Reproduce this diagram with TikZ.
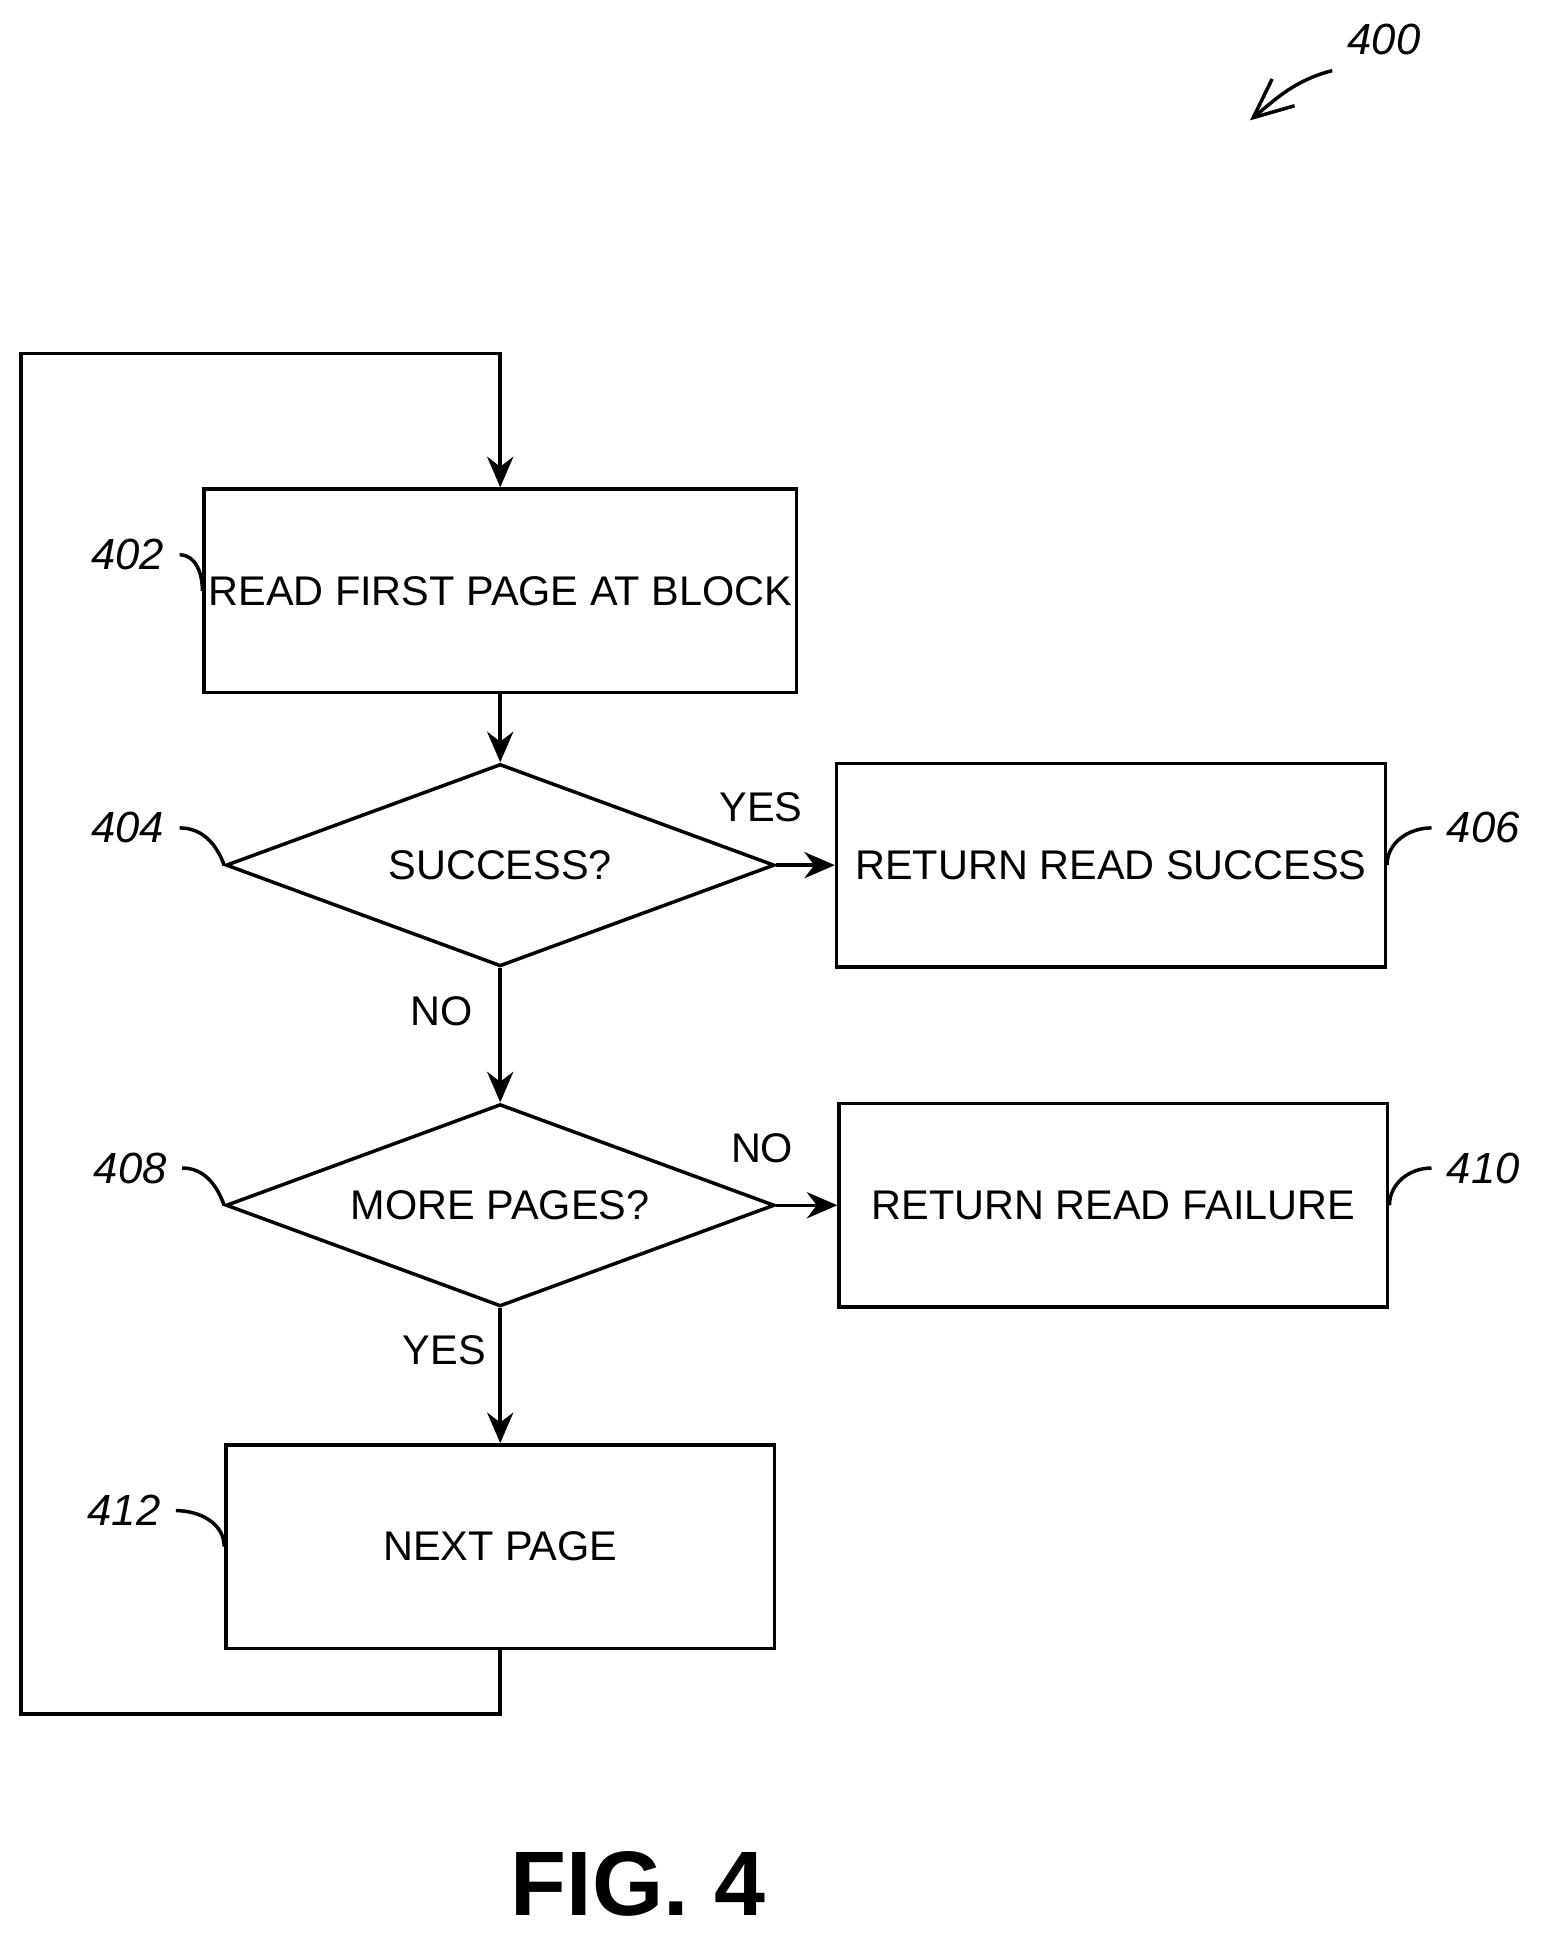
\documentclass[tikz,border=0pt]{standalone}
\usepackage{fontspec}
\setmainfont{Liberation Sans}
\usetikzlibrary{positioning, calc, arrows.meta, shapes.geometric}
\begin{document}
\begin{tikzpicture}[
    box/.style={draw, thick, minimum width=4.42cm, minimum height=1.64cm, inner sep=1pt, font=\fontsize{9.5}{11}\selectfont},
    dec/.style={draw, thick, diamond, aspect=2.7, inner sep=0pt, minimum width=4.42cm, minimum height=1.63cm, font=\fontsize{9.5}{11}\selectfont},
    ref/.style={font=\itshape\fontsize{10}{12}\selectfont},
    lbl/.style={font=\fontsize{9.5}{11}\selectfont},
    flow/.style={thick, -{Stealth[length=7pt, width=6pt]}},
    lead/.style={thick}]
        \useasboundingbox (0,0) rectangle (12.45,15.75);
        % nodes
        \node[box] (n402) at (4.03, 10.99) {READ FIRST PAGE AT BLOCK};
        \node[dec] (n404) at (4.03, 8.78) {SUCCESS?};
        \node[box] (n406) at (8.95, 8.78) {RETURN READ SUCCESS};
        \node[dec] (n408) at (4.03, 6.04) {MORE PAGES?};
        \node[box] (n410) at (8.97, 6.04) {RETURN READ FAILURE};
        \node[box] (n412) at (4.03, 3.29) {NEXT PAGE};
        \coordinate (c-bot)  at (4.03, 1.94);
        \coordinate (c-bl)   at (0.17, 1.94);
        \coordinate (c-tl)   at (0.17, 12.90);
        \coordinate (c-top)  at (4.03, 12.90);
        % labels
        \node[lbl] (yes1) at (6.13, 9.25) {YES};
        \node[lbl] (no1)  at (3.56, 7.60) {NO};
        \node[lbl] (no2)  at (6.14, 6.50) {NO};
        \node[lbl] (yes2) at (3.58, 4.87) {YES};
        % reference numerals
        \node[ref] (r402) at (1.03, 11.28) {402};
        \node[ref] (r404) at (1.03, 9.08) {404};
        \node[ref] (r406) at (11.95, 9.08) {406};
        \node[ref] (r408) at (1.05, 6.34) {408};
        \node[ref] (r410) at (11.95, 6.34) {410};
        \node[ref] (r412) at (1.00, 3.58) {412};
        \node[ref] (r400) at (11.15, 15.43) {400};
        \coordinate (c400) at (10.07, 14.78);
        \node[font=\bfseries\fontsize{21}{25}\selectfont] (fig) at (5.14, 0.57) {FIG. 4};
        % arrows
        \draw[flow] (n402) -- (n404);
        \draw[flow] (n404) -- (n406);
        \draw[flow] (n404) -- (n408);
        \draw[flow] (n408) -- (n410);
        \draw[flow] (n408) -- (n412);
        \draw[flow] (n412.south) -- (c-bot) -- (c-bl) -- (c-tl) -- (c-top) -- (n402.north);
        % leaders
        \draw[lead] (r402.east) to[out=0, in=90] (n402.west);
        \draw[lead] (r404.east) to[out=0, in=110] (n404.west);
        \draw[lead] (r406.west) to[out=180, in=90] (n406.east);
        \draw[lead] (r408.east) to[out=0, in=110] (n408.west);
        \draw[lead] (r410.west) to[out=180, in=90] (n410.east);
        \draw[lead] (r412.east) to[out=0, in=90] (n412.west);
        \draw[thick, -{Straight Barb[length=9pt, width=8pt]}] (r400.south west) to[out=195, in=40] (c400);
\end{tikzpicture}
\end{document}
